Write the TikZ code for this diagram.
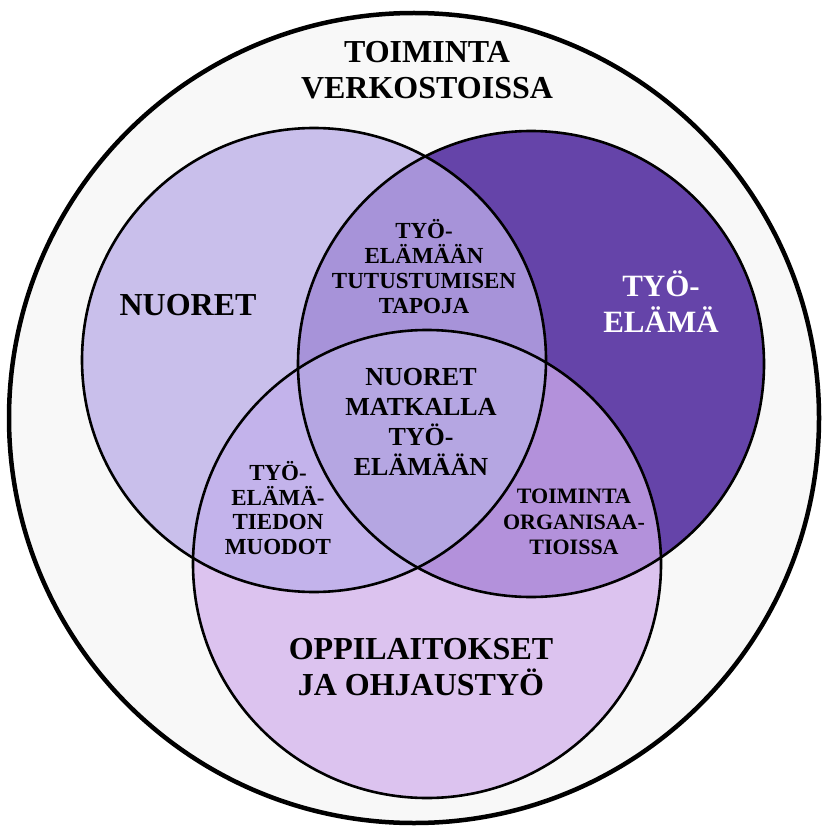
\documentclass[tikz,border=0pt]{standalone}
\usepackage{fontspec}
\setmainfont{Liberation Serif}
\definecolor{bgc}{HTML}{F8F8F8}
\definecolor{conly}{HTML}{C9BFEB}
\definecolor{ronly}{HTML}{6544A9}
\definecolor{bonly}{HTML}{DCC3EF}
\definecolor{clr}{HTML}{A793D9}
\definecolor{clb}{HTML}{C3B3EB}
\definecolor{crb}{HTML}{B391DB}
\definecolor{ccen}{HTML}{B5A6E2}
\begin{document}
\begin{tikzpicture}[x=1pt,y=-1pt,
  big/.style={font=\bfseries\fontsize{32}{35.5}\selectfont, align=center, inner sep=0pt},
  small/.style={font=\bfseries\fontsize{23}{25}\selectfont, align=center, inner sep=0pt},
  ring/.style={draw=black, line width=2.6pt}]
\useasboundingbox (0,0) rectangle (824,834);
\def\Lc{(314,360) circle[radius=232]}
\def\Rc{(531,364) circle[radius=233]}
\def\Bc{(427,564) circle[radius=234]}
% outer
\fill[bgc] (414,418) circle[radius=405];
% single fills
\fill[conly] \Lc;
\fill[ronly] \Rc;
\fill[bonly] \Bc;
% pairwise
\begin{scope}\clip \Lc; \fill[clr] \Rc; \end{scope}
\begin{scope}\clip \Lc; \fill[clb] \Bc; \end{scope}
\begin{scope}\clip \Rc; \fill[crb] \Bc; \end{scope}
\begin{scope}\clip \Lc; \clip \Rc; \fill[ccen] \Bc; \end{scope}
% outlines
\draw[ring] \Lc;
\draw[ring] \Rc;
\draw[ring] \Bc;
\draw[black, line width=4.5pt] (414,418) circle[radius=405];
% labels
\node[big] (verk) at (427,70) {TOIMINTA\\VERKOSTOISSA};
\node[big] (nuoret) at (188,305) {NUORET};
\node[big, text=white, font=\bfseries\fontsize{31}{36}\selectfont] (tyoelama) at (661,302) {TYÖ-\\ELÄMÄ};
\node[big, font=\bfseries\fontsize{32}{36}\selectfont] (oppi) at (421,667) {OPPILAITOKSET\\JA OHJAUSTYÖ};
\node[small] (tutust) at (424,267) {TYÖ-\\ELÄMÄÄN\\TUTUSTUMISEN\\TAPOJA};
\node[small, font=\bfseries\fontsize{26}{30}\selectfont] (matka) at (421,422) {NUORET\\MATKALLA\\TYÖ-\\ELÄMÄÄN};
\node[small, font=\bfseries\fontsize{23}{24.7}\selectfont] (tieto) at (278,508) {TYÖ-\\ELÄMÄ-\\TIEDON\\MUODOT};
\node[small, font=\bfseries\fontsize{22}{25.5}\selectfont] (org) at (574,522) {TOIMINTA\\ORGANISAA-\\TIOISSA};
\end{tikzpicture}
\end{document}
